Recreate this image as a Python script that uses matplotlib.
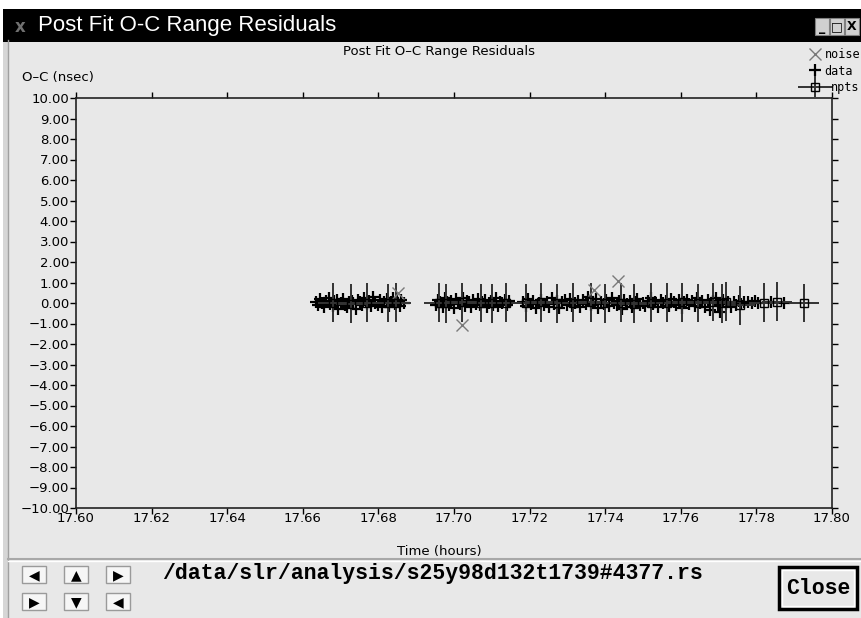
import matplotlib
matplotlib.use("Agg")
import matplotlib.pyplot as plt
from matplotlib.patches import Rectangle
from matplotlib.ticker import MultipleLocator, FuncFormatter
from matplotlib.legend_handler import HandlerErrorbar

# data: (time in hours, O-C residual in nsec)
data_pts = [
    (17.6636, 0.05), (17.6641, -0.12), (17.6645, 0.18), (17.6652, 0.02), (17.6657, -0.21),
    (17.6661, 0.10), (17.6668, 0.25), (17.6672, -0.04), (17.6679, -0.16), (17.6683, 0.08),
    (17.6690, 0.14), (17.6694, -0.27), (17.6701, 0.01), (17.6706, 0.20), (17.6712, -0.09),
    (17.6717, -0.18), (17.6723, 0.06), (17.6729, 0.12), (17.6734, -0.02), (17.6741, -0.30),
    (17.6746, 0.17), (17.6752, 0.03), (17.6757, -0.11), (17.6763, 0.22), (17.6770, -0.06),
    (17.6774, 0.09), (17.6781, -0.14), (17.6787, 0.28), (17.6792, 0.00), (17.6799, -0.08),
    (17.6805, 0.15), (17.6810, -0.20), (17.6816, 0.07), (17.6822, 0.19), (17.6828, -0.13),
    (17.6833, 0.04), (17.6839, 0.24), (17.6845, -0.05), (17.6850, 0.11), (17.6856, -0.17),
    (17.6861, 0.13), (17.6867, 0.02),
    (17.6952, -0.08), (17.6958, 0.15), (17.6963, 0.03), (17.6970, -0.19), (17.6975, 0.22),
    (17.6981, 0.06), (17.6988, -0.11), (17.6993, 0.10), (17.6999, -0.25), (17.7005, 0.18),
    (17.7011, 0.01), (17.7016, -0.07), (17.7023, 0.26), (17.7028, -0.15), (17.7034, 0.09),
    (17.7040, 0.04), (17.7046, -0.21), (17.7051, 0.13), (17.7057, -0.03), (17.7064, 0.20),
    (17.7069, -0.12), (17.7075, 0.07), (17.7081, 0.16), (17.7087, -0.18), (17.7092, 0.00),
    (17.7099, 0.11), (17.7104, -0.09), (17.7110, 0.23), (17.7116, -0.16), (17.7122, 0.05),
    (17.7128, -0.02), (17.7134, 0.14), (17.7140, -0.10), (17.7146, 0.08),
    (17.7183, 0.04), (17.7190, -0.14), (17.7196, 0.19), (17.7203, -0.06), (17.7210, 0.10),
    (17.7217, -0.22), (17.7224, 0.02), (17.7231, 0.17), (17.7238, -0.10), (17.7245, 0.07),
    (17.7252, -0.18), (17.7258, 0.24), (17.7265, -0.03), (17.7272, 0.12), (17.7279, -0.26),
    (17.7286, 0.05), (17.7293, 0.15), (17.7300, -0.08), (17.7307, 0.21), (17.7313, -0.13),
    (17.7320, 0.00), (17.7327, 0.09), (17.7334, -0.19), (17.7341, 0.14), (17.7348, -0.05),
    (17.7355, 0.27), (17.7362, -0.11), (17.7368, 0.06), (17.7375, 0.18), (17.7382, -0.23),
    (17.7389, 0.03), (17.7396, -0.07), (17.7403, 0.13), (17.7410, -0.16), (17.7417, 0.22),
    (17.7423, 0.01), (17.7430, -0.12), (17.7437, 0.08), (17.7444, -0.28), (17.7451, 0.16),
    (17.7458, -0.04), (17.7465, 0.11), (17.7472, -0.20), (17.7478, 0.05), (17.7485, 0.19),
    (17.7492, -0.09), (17.7499, 0.02), (17.7506, -0.15), (17.7513, 0.12), (17.7520, 0.25),
    (17.7527, -0.06), (17.7533, 0.07), (17.7540, -0.21), (17.7547, 0.15), (17.7554, -0.02),
    (17.7561, 0.10), (17.7568, -0.17), (17.7575, 0.20), (17.7582, 0.04), (17.7588, -0.10),
    (17.7595, 0.13), (17.7602, -0.24), (17.7609, 0.06), (17.7616, 0.17), (17.7623, -0.07),
    (17.7630, 0.09), (17.7637, -0.15), (17.7643, 0.22), (17.7650, -0.01), (17.7657, 0.11),
    (17.7664, -0.19), (17.7671, 0.14), (17.7678, -0.32), (17.7685, 0.08), (17.7692, 0.26),
    (17.7698, -0.12), (17.7705, -0.42), (17.7712, 0.16), (17.7719, -0.05), (17.7726, 0.03),
    (17.7733, -0.18), (17.7740, 0.07), (17.7747, -0.09), (17.7753, 0.12), (17.7760, -0.03),
    (17.7768, 0.05),
    (17.7779, 0.05), (17.7788, -0.02), (17.7797, 0.08), (17.7803, 0.00), (17.7838, 0.04),
    (17.7872, 0.02),
]

# rejected noise points
noise_t = [17.6852, 17.7022, 17.7370, 17.7433]
noise_v = [0.50, -1.07, 0.63, 1.09]

# normal points
npts_t = [17.6680, 17.6728, 17.6770, 17.6825, 17.6847, 17.6960, 17.6979, 17.7021,
          17.7071, 17.7100, 17.7138, 17.7190, 17.7230, 17.7272, 17.7315, 17.7362,
          17.7400, 17.7442, 17.7476, 17.7521, 17.7563, 17.7603, 17.7646, 17.7685,
          17.7709, 17.7719, 17.7757, 17.7820, 17.7854, 17.7926]
npts_v = [0.02, -0.03, 0.01, 0.00, 0.02, 0.01, -0.02, 0.03,
          0.00, -0.01, 0.02, 0.00, 0.03, -0.02, 0.01, 0.04,
          -0.01, 0.02, -0.03, 0.01, 0.02, 0.03, 0.00, 0.05,
          -0.02, 0.06, -0.12, 0.02, 0.06, 0.00]
npts_err = 0.95
npts_span = 0.004

W, H = 862, 618
BG = '#e8e8e8'

fig = plt.figure(figsize=(W / 100, H / 100), dpi=100)
fig.patch.set_facecolor(BG)

# window decoration, drawn in pixel coordinates
bg = fig.add_axes([0, 0, 1, 1], zorder=0)
bg.set_xlim(0, W)
bg.set_ylim(H, 0)
bg.axis('off')
bg.add_patch(Rectangle((0, 0), W, 9, fc='white', ec='none'))
bg.add_patch(Rectangle((0, 0), 3, H, fc='white', ec='none'))
bg.add_patch(Rectangle((3, 9), 5, H, fc='#d6d6d6', ec='none'))
bg.plot([8.5, 8.5], [40, H], color='#a0a0a0', lw=1)
bg.add_patch(Rectangle((3, 9), W, 33, fc='black', ec='none'))
bg.text(15, 27, 'x', color='#707070', fontsize=12, va='center', weight='bold')
bg.text(38, 26, 'Post Fit O-C Range Residuals', color='white', fontsize=16,
        family='Liberation Sans', va='center')
for i, g in enumerate(['_', '□', 'X']):
    x0 = 815 + i * 15
    bg.add_patch(Rectangle((x0, 18), 14, 17, fc='#d0d0d0', ec='#808080', lw=0.8))
    bg.text(x0 + 7, 27, g, ha='center', va='center', fontsize=9, weight='bold')

# bottom control panel
bg.plot([8, W], [559, 559], color='#a8a8a8', lw=1.5)
bg.plot([8, W], [560.5, 560.5], color='white', lw=1)
arrows = [('◀', 22, 566), ('▲', 64, 566), ('▶', 106, 566),
          ('▶', 22, 593), ('▼', 64, 593), ('◀', 106, 593)]
for g, x0, y0 in arrows:
    bg.add_patch(Rectangle((x0, y0), 24, 17, fc='#f6f6f6', ec='#9a9a9a', lw=1))
    bg.text(x0 + 12, y0 + 9, g, ha='center', va='center', fontsize=10,
            family='DejaVu Sans')
bg.text(162, 574, '/data/slr/analysis/s25y98d132t1739#4377.rs',
        family='Liberation Mono', weight='bold', fontsize=15.5, va='center')
bg.add_patch(Rectangle((779, 567), 78, 42, fc=BG, ec='black', lw=2.5))
bg.add_patch(Rectangle((782, 570), 72, 36, fc='none', ec='white', lw=1))
bg.text(818, 588, 'Close', family='Liberation Mono', weight='bold',
        fontsize=15.5, ha='center', va='center')

# plot area
ax = fig.add_axes([76 / W, 1 - 508 / H, (832 - 76) / W, (508 - 98) / H], zorder=2)
ax.set_facecolor('none')

dt = [p[0] for p in data_pts]
dv = [p[1] for p in data_pts]
h_data, = ax.plot(dt, dv, '+', color='black', ms=8, mew=1.6, label='data')
h_npts = ax.errorbar(npts_t, npts_v, yerr=npts_err, xerr=npts_span, fmt='s',
                     mfc='none', mec='black', ms=6, mew=1, ecolor='#333333',
                     elinewidth=1.4, capsize=0, label='npts')
h_noise, = ax.plot(noise_t, noise_v, 'x', color='#7a7a7a', ms=8, mew=1,
                   label='noise')

ax.set_xlim(17.60, 17.80)
ax.set_ylim(-10, 10)
ax.xaxis.set_major_locator(MultipleLocator(0.02))
ax.yaxis.set_major_locator(MultipleLocator(1))
ax.xaxis.set_major_formatter(FuncFormatter(lambda v, p: f'{v:.2f}'))
ax.yaxis.set_major_formatter(FuncFormatter(lambda v, p: f'{v:.2f}'.replace('-', '\u2212')))
ax.tick_params(direction='out', length=4, width=1, labelsize=9.5,
               top=True, right=True, pad=1)
ax.tick_params(axis='x', pad=-1)
for s in ax.spines.values():
    s.set_linewidth(1.2)
    s.set_color('#222222')

fig.text(439 / W, 1 - 52 / H, 'Post Fit O\u2013C Range Residuals', ha='center',
         va='center', fontsize=9.5)
fig.text(22 / W, 1 - 77 / H, 'O\u2013C (nsec)', va='center', fontsize=9.5)
fig.text(439 / W, 1 - 551 / H, 'Time (hours)', ha='center', va='center',
         fontsize=9.5)

# legend squeezed against the window's right edge
fig.legend([h_noise, h_data], ['noise', 'data'],
           loc='upper left', bbox_to_anchor=(808 / W, 1 - 48 / H),
           frameon=False, prop=dict(family='DejaVu Sans Mono', size=8.5),
           handlelength=1.2, handletextpad=0.2, labelspacing=0.3,
           borderaxespad=0, borderpad=0)
fig.legend([h_npts], ['npts'],
           loc='upper left', bbox_to_anchor=(800 / W, 1 - 81 / H),
           frameon=False, prop=dict(family='DejaVu Sans Mono', size=8.5),
           handlelength=2.6, handletextpad=0.0,
           handler_map={type(h_npts): HandlerErrorbar(xerr_size=1.5, yerr_size=0.9)},
           borderaxespad=0, borderpad=0)

fig.savefig('out.png', dpi=100, facecolor=fig.get_facecolor())
